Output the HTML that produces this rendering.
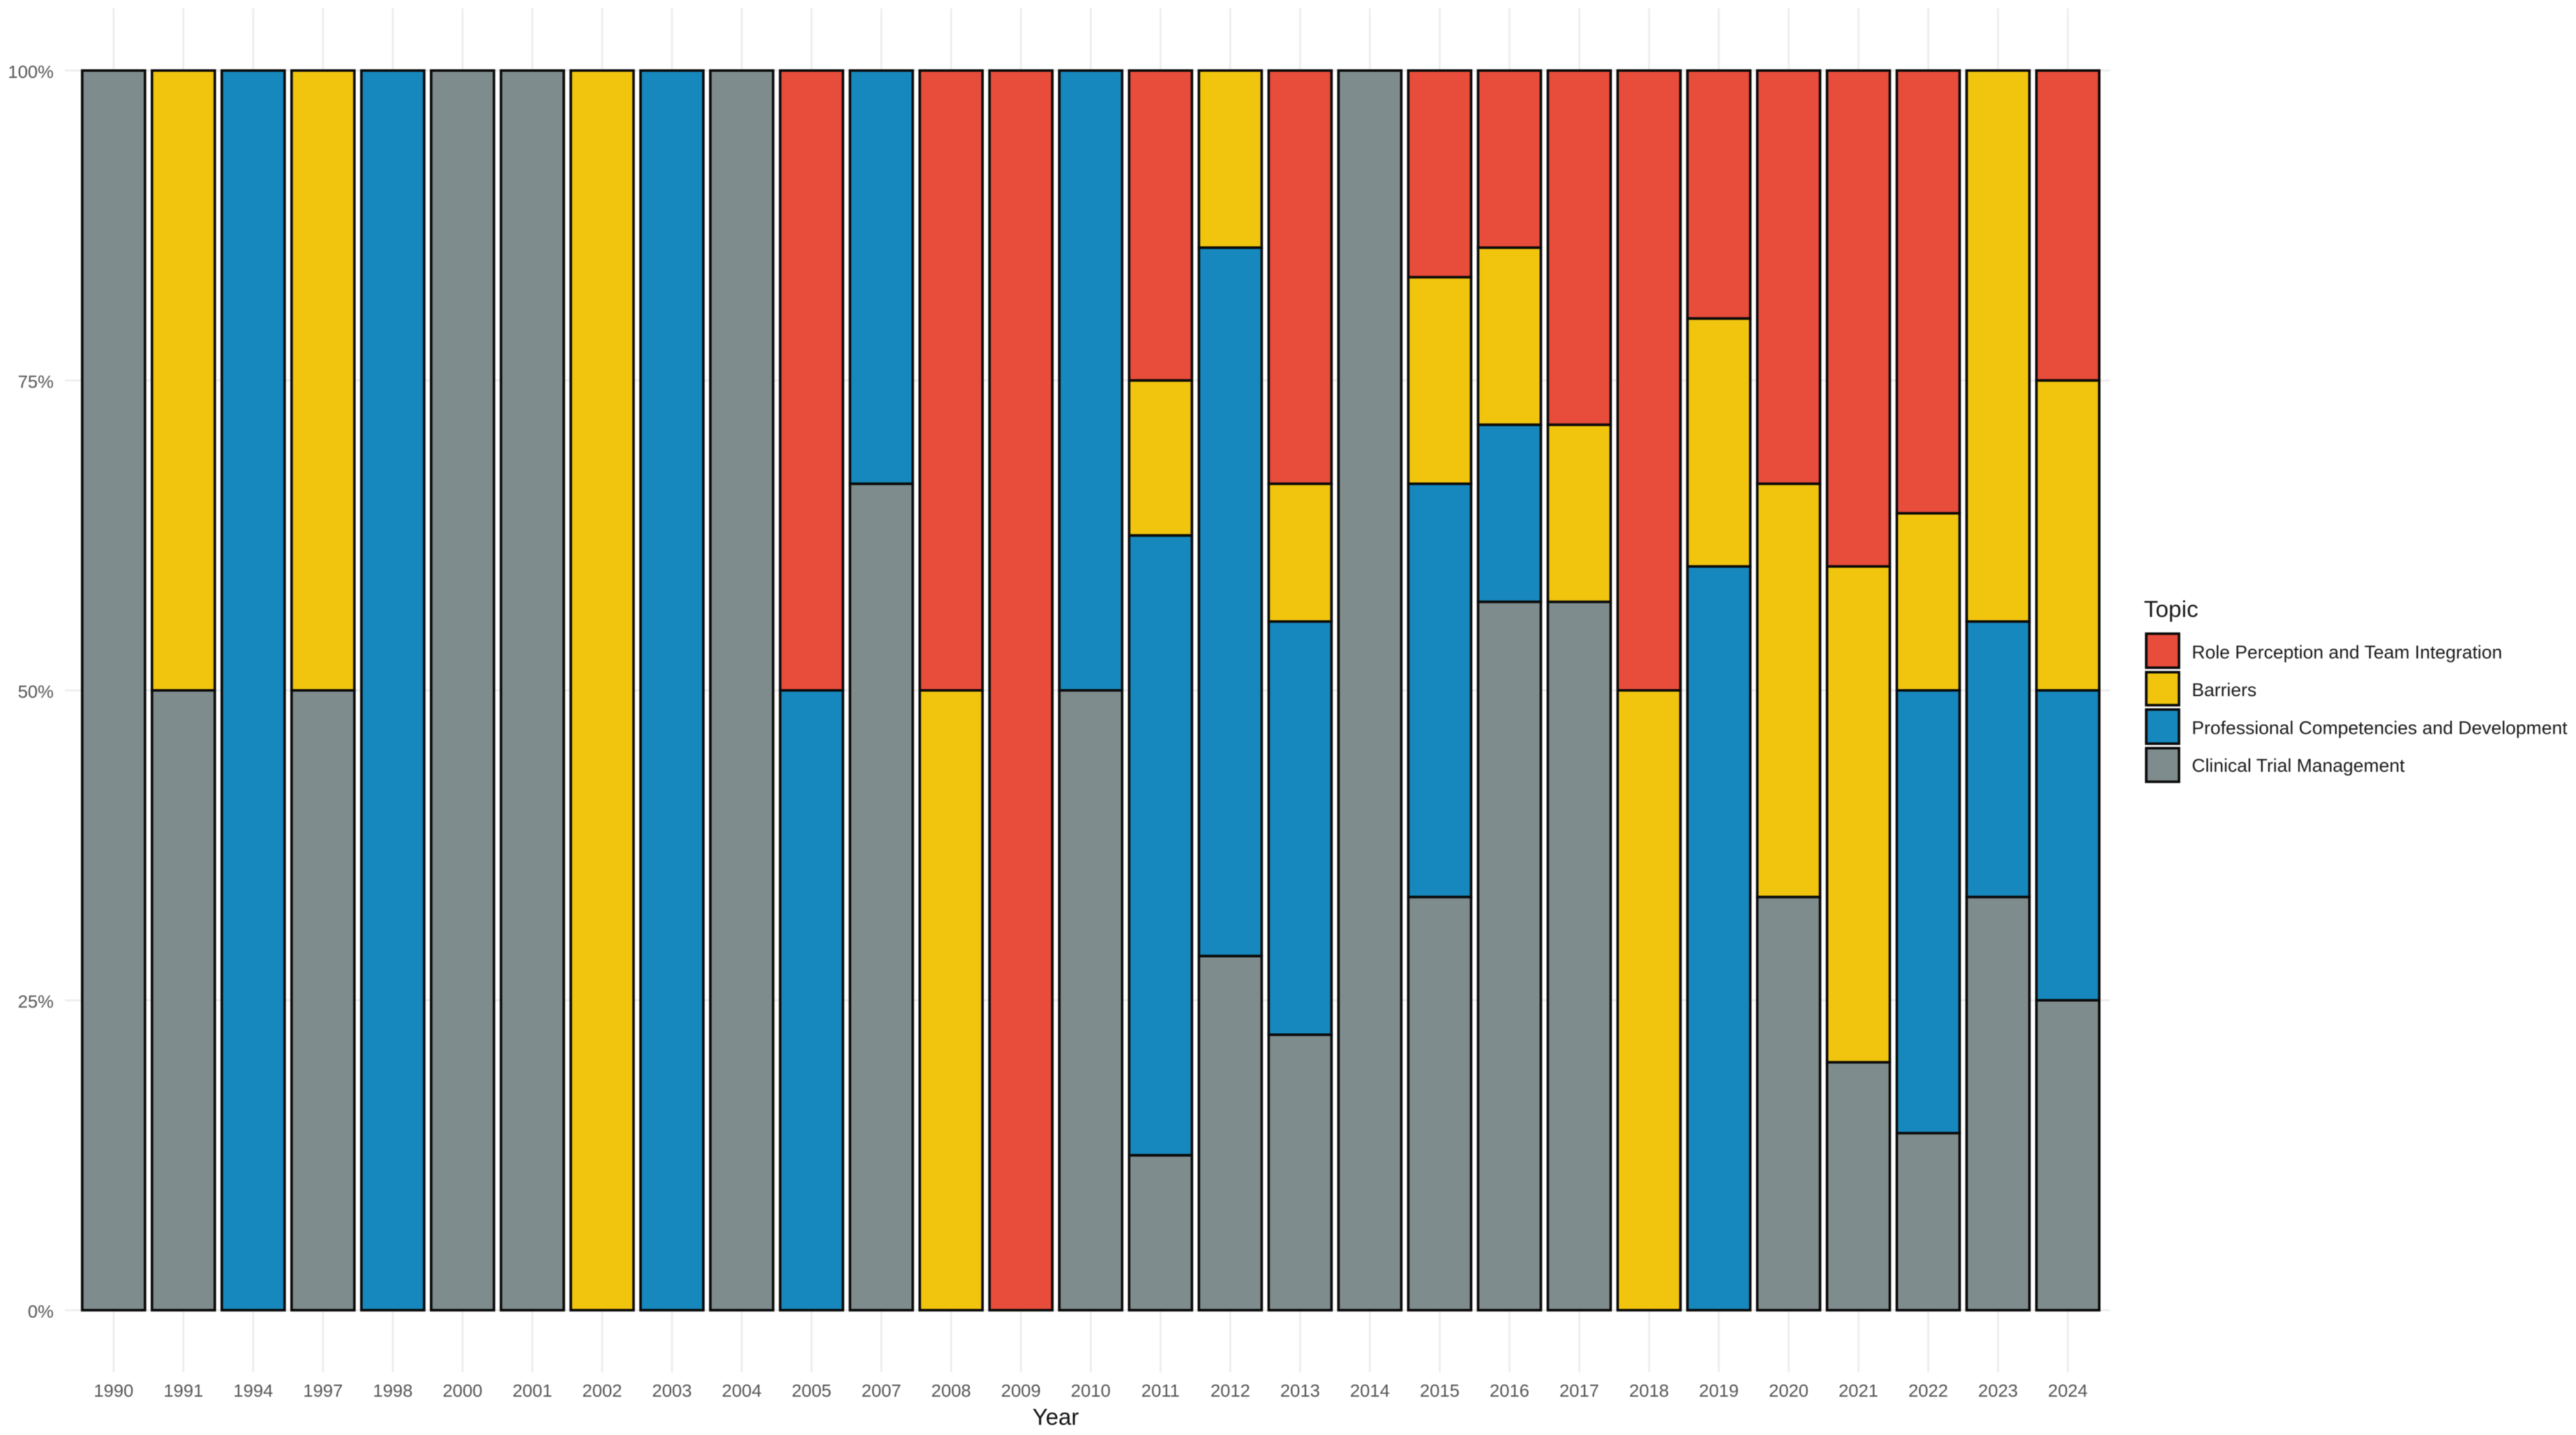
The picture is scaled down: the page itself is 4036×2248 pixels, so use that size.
<!DOCTYPE html>
<html lang="en">
<head>
<meta charset="utf-8">
<title>Topic share by year</title>
<style>
html,body{margin:0;padding:0;background:#fff;width:4036px;height:2248px;overflow:hidden}
svg{display:block;font-family:"Liberation Sans",Arial,sans-serif;filter:blur(0.8px)}
</style>
</head>
<body>
<svg id="chart" xmlns="http://www.w3.org/2000/svg" width="4036" height="2248" viewBox="0 0 4036 2248">
  <rect x="0" y="0" width="4036" height="2248" fill="#ffffff"/>
  <g id="grid"></g>
  <g id="bars"></g>
  <g id="yticks"></g>
  <g id="xticks"></g>
  <text x="1654" y="2232" font-size="36" fill="#111" text-anchor="middle">Year</text>
  <g>
    <text x="3359" y="966.5" font-size="36.5" fill="#1a1a1a">Topic</text>
    <g>
      <rect x="3362.7" y="992.7" width="51.3" height="53.3" fill="#e84c3a" stroke="#0a0a0a" stroke-width="4"/>
      <text x="3434" y="1031.5" font-size="29" fill="#1a1a1a">Role Perception and Team Integration</text>
    </g>
    <g>
      <rect x="3362.7" y="1053" width="51.3" height="51.7" fill="#f1c50e" stroke="#0a0a0a" stroke-width="4"/>
      <text x="3434" y="1090.5" font-size="29" fill="#1a1a1a">Barriers</text>
    </g>
    <g>
      <rect x="3362.7" y="1111.5" width="51.3" height="53.5" fill="#1688bd" stroke="#0a0a0a" stroke-width="4"/>
      <text x="3434" y="1150" font-size="29" fill="#1a1a1a">Professional Competencies and Development</text>
    </g>
    <g>
      <rect x="3362.7" y="1172" width="51.3" height="52.7" fill="#7f8c8d" stroke="#0a0a0a" stroke-width="4"/>
      <text x="3434" y="1209" font-size="29" fill="#1a1a1a">Clinical Trial Management</text>
    </g>
  </g>
</svg>
<script>
const years = [1990,1991,1994,1997,1998,2000,2001,2002,2003,2004,2005,2007,2008,2009,2010,2011,2012,2013,2014,2015,2016,2017,2018,2019,2020,2021,2022,2023,2024];
const clinical =     [1,1,0,1,0,1,1,0,0,1,0,2,0,0,1,1,2,2,1,2,4,4,0,0,1,1,2,3,1];
const professional = [0,0,1,0,1,0,0,0,1,0,1,1,0,0,1,4,4,3,0,2,1,0,0,3,0,0,5,2,1];
const barriers =     [0,1,0,1,0,0,0,1,0,0,0,0,1,0,0,1,1,1,0,1,1,1,1,1,1,2,2,4,1];
const role =         [0,0,0,0,0,0,0,0,0,0,1,0,1,1,0,2,0,3,0,1,1,2,1,1,1,2,5,0,1];
const yTicks = [0,25,50,75,100];

const svgNS = 'http://www.w3.org/2000/svg';
const X0 = 178, STEP = 109.35, BAR_W = 98.4;
const Y0 = 2052.5, Y100 = 110.5;
const xScale = i => X0 + STEP * i;
const yScale = p => Y0 + (Y100 - Y0) * p / 100;

function mk(parent, tag, attrs, text) {
  const el = document.createElementNS(svgNS, tag);
  for (const k in attrs) el.setAttribute(k, attrs[k]);
  if (text !== undefined) el.textContent = text;
  parent.appendChild(el);
  return el;
}

const grid = document.getElementById('grid');
yTicks.forEach(t => {
  const line = mk(grid, 'line', {x1: 102, x2: 3306, y1: yScale(t), y2: yScale(t), stroke: '#ededed', 'stroke-width': 3});
  
  
});
years.forEach((yr, i) => {
  const line = mk(grid, 'line', {x1: xScale(i), x2: xScale(i), y1: 13, y2: 2150, stroke: '#ededed', 'stroke-width': 3});
  
  
});

const yG = document.getElementById('yticks');
yTicks.forEach(t => {
  const label = mk(yG, 'text', {x: 84, y: yScale(t) + 11.5, 'font-size': 28, fill: '#555', 'text-anchor': 'end'}, t + '%');
  
  
});

const xG = document.getElementById('xticks');
years.forEach((yr, i) => {
  const label = mk(xG, 'text', {x: xScale(i), y: 2188, 'font-size': 28, fill: '#555', 'text-anchor': 'middle'}, yr);
  
  
});

const layers = [
  {key: 'clinical-trial-management', values: clinical, color: '#7f8c8d'},
  {key: 'professional-competencies', values: professional, color: '#1688bd'},
  {key: 'barriers', values: barriers, color: '#f1c50e'},
  {key: 'role-perception', values: role, color: '#e84c3a'}
];
const barsG = document.getElementById('bars');
years.forEach((yr, i) => {
  const total = layers.reduce((s, l) => s + l.values[i], 0);
  let cum = 0;
  layers.forEach(l => {
    const v = l.values[i];
    if (!v) return;
    const p0 = total ? cum / total * 100 : 0;
    cum += v;
    const p1 = total ? cum / total * 100 : 0;
    const rect = mk(barsG, 'rect', {
      x: xScale(i) - BAR_W / 2,
      y: yScale(p1),
      width: BAR_W,
      height: yScale(p0) - yScale(p1),
      fill: l.color,
      stroke: '#0a0a0a',
      'stroke-width': 4
    });
    
    
  });
});
</script>
</body>
</html>
